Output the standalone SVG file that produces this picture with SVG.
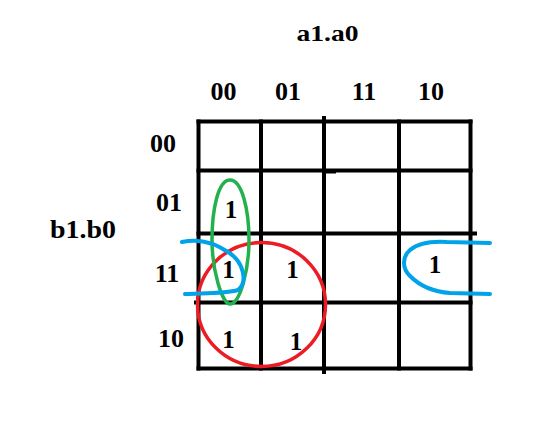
<svg xmlns="http://www.w3.org/2000/svg" width="553" height="421" viewBox="0 0 553 421">
<style>
text{font-family:"Liberation Serif","Times New Roman",serif;font-weight:bold;fill:#000;text-anchor:middle}
.lbl{font-size:26px}
.one{font-size:25px}
.grid line{stroke:#000;stroke-width:4;stroke-linecap:square}
.loop{fill:none;stroke-linecap:round;stroke-linejoin:round}
</style>
<rect width="553" height="421" fill="#fff"/>
<g id="axis-labels">
<text x="327.5" y="41" font-size="24" textLength="62" lengthAdjust="spacingAndGlyphs">a1.a0</text>
<text x="83" y="238" font-size="25" textLength="66" lengthAdjust="spacingAndGlyphs">b1.b0</text>
<text class="lbl" x="223.5" y="100">00</text>
<text class="lbl" x="288" y="100">01</text>
<text class="lbl" x="364" y="100">11</text>
<text class="lbl" x="431" y="100">10</text>
<text class="lbl" x="163" y="152">00</text>
<text class="lbl" x="169" y="211">01</text>
<text class="lbl" x="167" y="282">11</text>
<text class="lbl" x="171" y="347">10</text>
</g>
<g id="grid" class="grid">
<line x1="198.5" y1="121.5" x2="198.5" y2="368.5"/>
<line x1="261" y1="121.5" x2="261" y2="368.5"/>
<line x1="324" y1="118" x2="324" y2="372"/>
<line x1="399" y1="121.5" x2="399" y2="368.5"/>
<line x1="470.5" y1="121.5" x2="470.5" y2="368.5"/>
<line x1="198.5" y1="121.5" x2="470.5" y2="121.5"/>
<line x1="198.5" y1="170.5" x2="470.5" y2="170.5"/>
<line x1="324" y1="171.5" x2="334" y2="171.5"/>
<line x1="198.5" y1="233.5" x2="475" y2="233.5"/>
<line x1="196" y1="302.5" x2="470.5" y2="302.5"/>
<line x1="198.5" y1="368.5" x2="470.5" y2="368.5"/>
</g>
<g id="cells">
<text class="one" x="231" y="218">1</text>
<text class="one" x="228.5" y="278">1</text>
<text class="one" x="292.5" y="278">1</text>
<text class="one" x="228.5" y="348">1</text>
<text class="one" x="296" y="350">1</text>
<text class="one" x="435" y="273">1</text>
</g>
<g id="groupings">
<ellipse class="loop" cx="261.5" cy="304.5" rx="64" ry="62" stroke="#ED1C24" stroke-width="3.5"/>
<path class="loop" d="M230,180 C218,180 212,210 212,240 C212,270 222,304 230,304 C240,304 249,270 249,240 C249,210 242,180 230,180 Z" stroke="#22B14C" stroke-width="3.5"/>
<path class="loop" d="M182,242 C200,238 215,243 228,252 C244,262 248,282 238,290 C225,294 200,293 185,294" stroke="#00A2E8" stroke-width="4"/>
<path class="loop" d="M490,243 L447,242 C430,241 418,243 410,250 C402,257 402,268 410,276 C420,286 435,292 450,293 L490,294" stroke="#00A2E8" stroke-width="4"/>
</g>
</svg>
